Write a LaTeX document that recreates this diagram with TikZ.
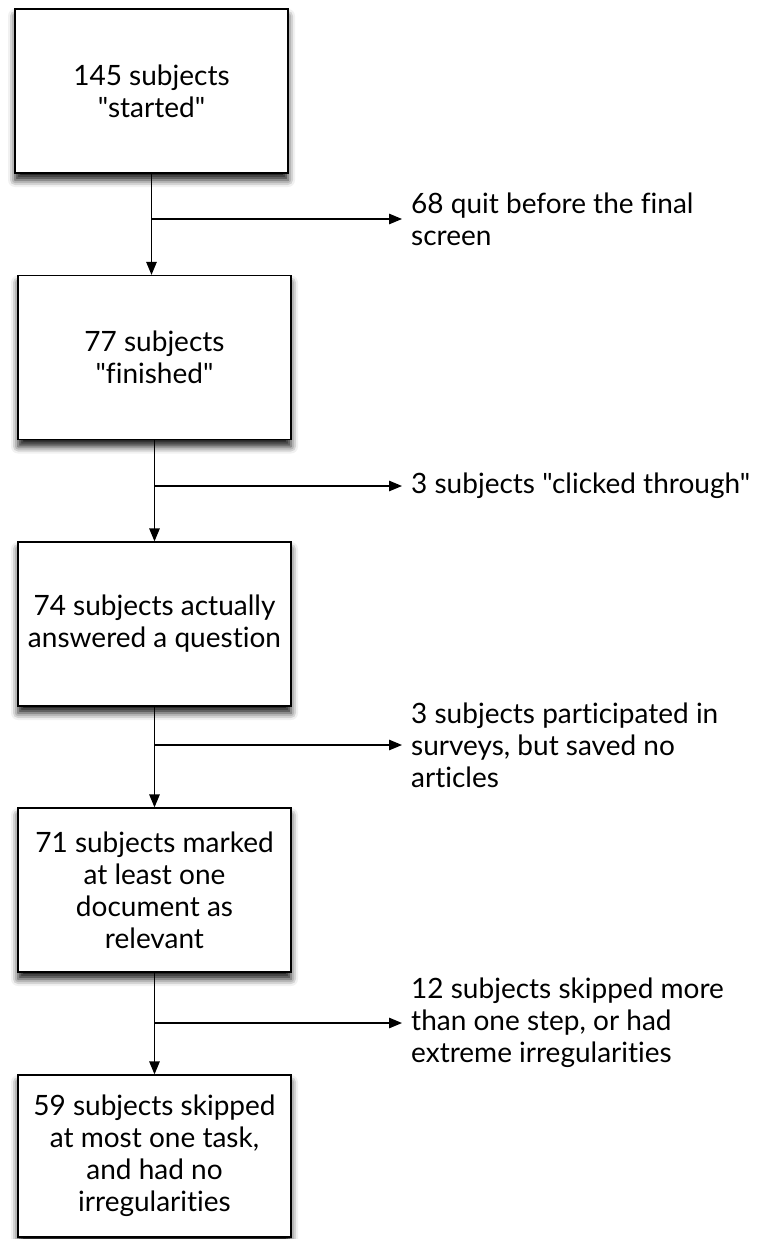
\documentclass[tikz,border=0pt]{standalone}
\usepackage{fontspec}
\setmainfont{Lato}[Ligatures={TeXOff,CommonOff}]
\usetikzlibrary{arrows.meta,shadows.blur}

\tikzset{
  stagebox/.style={draw=black, line width=1.3pt, fill=white,
    minimum width=273pt, minimum height=164pt, inner sep=0pt,
    align=center, font=\fontsize{28}{32}\selectfont,
    blur shadow={shadow xshift=0pt, shadow yshift=-7pt,
      shadow blur radius=7pt, shadow opacity=90}},
  droplabel/.style={anchor=west, inner sep=0pt, align=left,
    font=\fontsize{28}{32}\selectfont},
  flow/.style={line width=1.3pt, draw=black},
  flowarrow/.style={flow, -{Triangle[length=13pt,width=10.5pt]}}
}

\begin{document}
\begin{tikzpicture}[x=1pt,y=-1pt]
  \useasboundingbox (0,0) rectangle (760,1239);

  % stages of the filtering funnel
  \node[stagebox] (b1) at (151.5,91)  {145 subjects\\"started"};
  \node[stagebox] (b2) at (154.5,357.5) {77 subjects\\"finished"};
  \node[stagebox] (b3) at (154.5,624) {74 subjects actually\\answered a question};
  \node[stagebox] (b4) at (154.5,890) {71 subjects marked\\at least one\\document as\\relevant};
  \node[stagebox, minimum height=162pt] (b5) at (154.5,1156) {59 subjects skipped\\at most one task,\\and had no\\irregularities};

  % subjects removed at each step
  \node[droplabel] (l1) at (411,219)  {68 quit before the final\\screen};
  \node[droplabel] (l2) at (411,486)  {3 subjects "clicked through"};
  \node[droplabel] (l3) at (411,745)  {3 subjects participated in\\surveys, but saved no\\articles};
  \node[droplabel] (l4) at (411,1023) {12 subjects skipped more\\than one step, or had\\extreme irregularities};

  % main flow
  \draw[flowarrow] (b1.south) -- (b1.south |- b2.north);
  \draw[flowarrow] (b2.south) -- (b2.south |- b3.north);
  \draw[flowarrow] (b3.south) -- (b3.south |- b4.north);
  \draw[flowarrow] (b4.south) -- (b4.south |- b5.north);

  % side branches
  \draw[flowarrow] (b1.south |- l1.west) -- ([xshift=-9pt]l1.west);
  \draw[flowarrow] (b2.south |- l2.west) -- ([xshift=-9pt]l2.west);
  \draw[flowarrow] (b3.south |- l3.west) -- ([xshift=-9pt]l3.west);
  \draw[flowarrow] (b4.south |- l4.west) -- ([xshift=-9pt]l4.west);
\end{tikzpicture}
\end{document}
